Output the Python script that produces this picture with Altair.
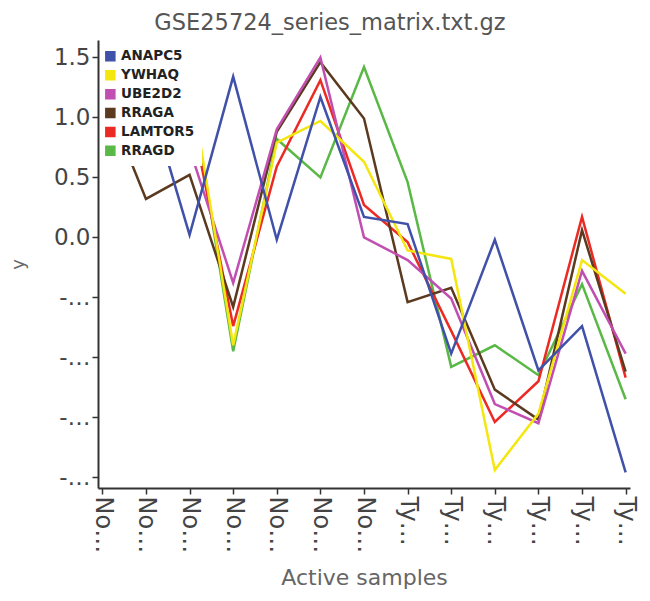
import altair as alt
import pandas as pd

samples = [
    "Non-diabetic 1", "Non-diabetic 2", "Non-diabetic 3", "Non-diabetic 4",
    "Non-diabetic 5", "Non-diabetic 6", "Non-diabetic 7",
    "Type 2 diabetic 1", "Type 2 diabetic 2", "Type 2 diabetic 3",
    "Type 2 diabetic 4", "Type 2 diabetic 5", "Type 2 diabetic 6",
]
genes = ["ANAPC5", "YWHAQ", "UBE2D2", "RRAGA", "LAMTOR5", "RRAGD"]
colors = ["#3f51a8", "#f4e60f", "#c14fb2", "#5b3a1f", "#ec2a24", "#5ab946"]

anapc5 = [0.90, 1.25, 0.02, 1.34, -0.02, 1.17, 0.17, 0.11, -0.97, -0.02, -1.11, -0.74, -1.96]
ywhaq = [1.00, 1.20, 1.33, -0.90, 0.79, 0.97, 0.63, -0.11, -0.18, -1.94, -1.47, -0.19, -0.47]
ube2d2 = [1.10, 0.90, 0.74, -0.38, 0.90, 1.50, 0.00, -0.19, -0.51, -1.39, -1.55, -0.28, -0.97]
rraga = [1.22, 0.32, 0.52, -0.58, 0.88, 1.46, 0.99, -0.54, -0.42, -1.27, -1.52, 0.06, -1.12]
lamtor5 = [0.80, 1.00, 1.10, -0.74, 0.59, 1.31, 0.27, -0.04, -0.78, -1.54, -1.20, 0.17, -1.17]
rragd = [0.70, 0.95, 1.30, -0.95, 0.82, 0.50, 1.42, 0.46, -1.08, -0.90, -1.15, -0.39, -1.35]

series = {
    "ANAPC5": anapc5, "YWHAQ": ywhaq, "UBE2D2": ube2d2,
    "RRAGA": rraga, "LAMTOR5": lamtor5, "RRAGD": rragd,
}
draw_order = ["RRAGD", "LAMTOR5", "RRAGA", "UBE2D2", "YWHAQ", "ANAPC5"]

rows = []
for g in draw_order:
    for s, v in zip(samples, series[g]):
        rows.append({"gene": g, "sample": s, "value": v})
df = pd.DataFrame(rows)

font = "DejaVu Sans"

x_enc = alt.X(
    "sample:N", sort=samples, title="Active samples",
    scale=alt.Scale(type="point", padding=0.1),
    axis=alt.Axis(
        labelAngle=90, labelLimit=62, labelFontSize=24, labelColor="#444",
        labelFont=font, titleFont=font, titleFontSize=22, titleColor="#666",
        titleFontWeight="normal", titlePadding=15,
        domainColor="#333", domainWidth=2, tickColor="#333", tickWidth=1.5,
        tickSize=6, zindex=1, grid=False,
    ),
)
y_enc = alt.Y(
    "value:Q", title="y",
    scale=alt.Scale(domain=[-2.09, 1.645], nice=False, zero=False),
    axis=alt.Axis(
        values=[-2.0, -1.5, -1.0, -0.5, 0.0, 0.5, 1.0, 1.5],
        labelExpr="datum.value < 0 ? '-' + format(-datum.value, '.1f') : format(datum.value, '.1f')",
        labelLimit=40, labelFontSize=23, labelColor="#444", labelFont=font,
        titleFont=font, titleFontSize=18, titleColor="#666",
        titleFontWeight="normal", titlePadding=26,
        domainColor="#333", domainWidth=2, tickColor="#333", tickWidth=1.5,
        tickSize=6, zindex=1, grid=False,
    ),
)
color_scale = alt.Scale(domain=genes, range=colors)

base = alt.Chart(df).encode(x=x_enc, y=y_enc)

legend_layer = base.mark_square(opacity=0, size=0, filled=True).encode(
    color=alt.Color(
        "gene:N", title=None, scale=color_scale,
        legend=alt.Legend(
            orient="none", legendX=-2, legendY=2, padding=7.6,
            fillColor="white", symbolType="square", symbolSize=81,
            symbolOpacity=1, symbolStrokeColor="#222", symbolStrokeWidth=1.5,
            labelFont=font, labelFontWeight="bold", labelFontSize=13.5,
            labelColor="#222", rowPadding=2.9, labelOffset=4,
        ),
    )
)

lines = base.mark_line(strokeWidth=2.5, clip=True).encode(
    color=alt.Color("gene:N", scale=color_scale, legend=None)
)

chart = alt.layer(legend_layer, lines).properties(
    width=532, height=448,
    title=alt.TitleParams(
        "GSE25724_series_matrix.txt.gz", font=font, fontSize=22.5,
        fontWeight="normal", color="#555", offset=6,
        anchor="middle", frame="group", dx=-34,
    ),
    autosize=alt.AutoSizeParams(type="none"),
    padding={"left": 90, "top": 32, "right": 12, "bottom": 105},
).configure_view(stroke=None)

chart.save("out.html", embed_options={"renderer": "svg", "actions": False})
